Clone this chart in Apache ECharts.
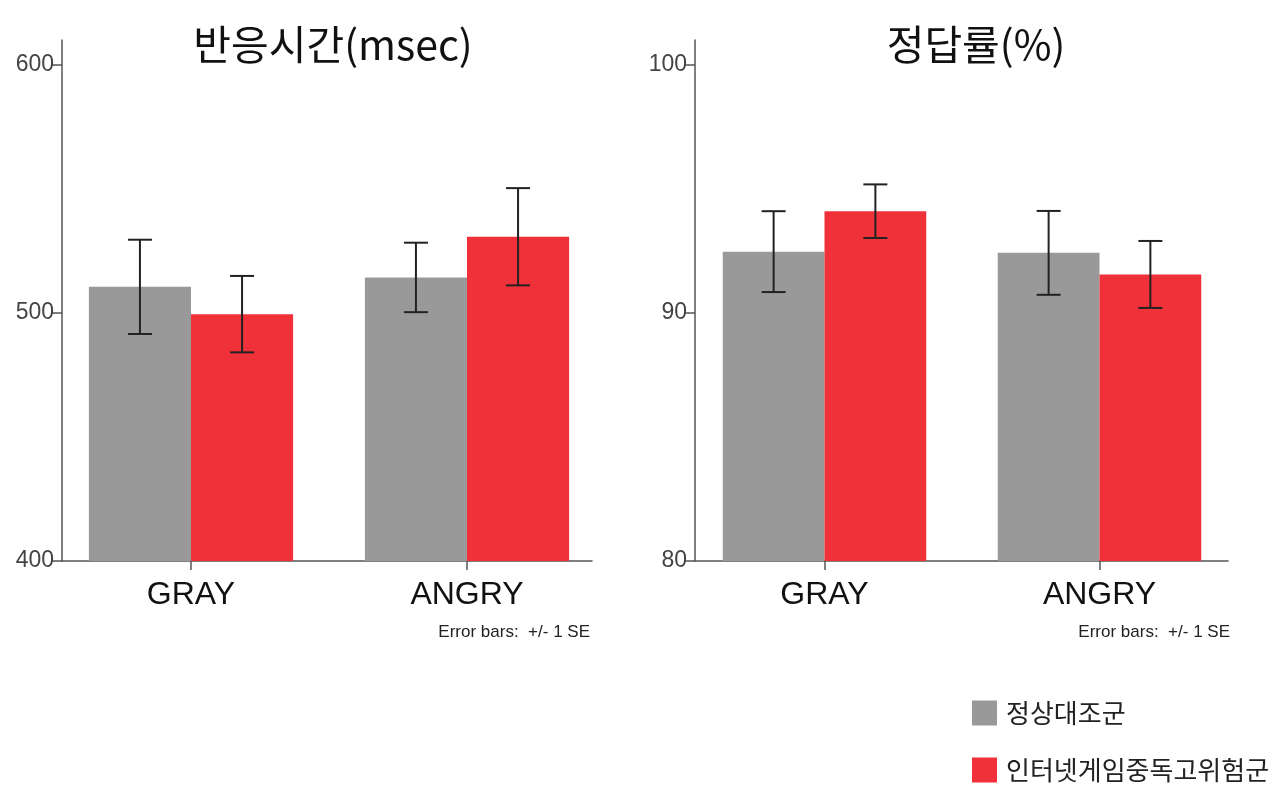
<!DOCTYPE html>
<html>
<head>
<meta charset="utf-8">
<script src="https://cdn.jsdelivr.net/npm/echarts@6/dist/echarts.min.js"></script>
<style>html,body{margin:0;padding:0;background:#fff;}#c{width:1280px;height:797px;}</style>
</head>
<body>
<div id="c"></div>
<script>
const categories = ['GRAY', 'ANGRY'];
const seriesNames = ['정상대조군', '인터넷게임중독고위험군'];
const rtNormal = [510.5, 514.3];
const rtNormalSE = [19.0, 14.0];
const rtRisk = [499.5, 530.7];
const rtRiskSE = [15.4, 19.6];
const accNormal = [92.47, 92.42];
const accNormalSE = [1.63, 1.69];
const accRisk = [94.1, 91.55];
const accRiskSE = [1.08, 1.35];
const rtTicks = [400, 500, 600];
const accTicks = [80, 90, 100];

const GRAY = '#999999';
const RED = '#F0313A';
const AXIS = '#555555';
const GAP = 0.26;
const numFont = "'Liberation Sans', Arial, sans-serif";
const latFont = "'Liberation Sans', Arial, sans-serif";
const cjkFont = "'Noto Sans CJK KR', 'Noto Sans', sans-serif";

function errData(means, ses, side) {
  return means.map((m, i) => [i, m, ses[i], side]);
}
function renderErr(params, api) {
  const idx = api.value(0), m = api.value(1), se = api.value(2), side = api.value(3);
  const bandW = api.size([1, 0])[0];
  const barW = bandW * (1 - GAP) / 2;
  const c = api.coord([idx, m]);
  const x = c[0] + side * barW / 2;
  const yt = api.coord([idx, m + se])[1];
  const yb = api.coord([idx, m - se])[1];
  const hw = 12;
  const st = { stroke: '#222', lineWidth: 2 };
  return { type: 'group', children: [
    { type: 'line', shape: { x1: x, y1: yt, x2: x, y2: yb }, style: st },
    { type: 'line', shape: { x1: x - hw, y1: yt, x2: x + hw, y2: yt }, style: st },
    { type: 'line', shape: { x1: x - hw, y1: yb, x2: x + hw, y2: yb }, style: st }
  ]};
}

const gridTop = 40, gridBottom = 236;
const grids = [
  { left: 53, width: 552, top: gridTop, bottom: gridBottom },   // left data
  { left: 62, width: 530, top: gridTop, bottom: gridBottom },   // left frame
  { left: 687, width: 550, top: gridTop, bottom: gridBottom },  // right data
  { left: 695, width: 533, top: gridTop, bottom: gridBottom }   // right frame
];

function dataX(g) {
  return { type: 'category', gridIndex: g, data: categories,
    axisLine: { show: false },
    axisTick: { show: true, alignWithLabel: true, length: 9, lineStyle: { color: AXIS, width: 1.5 } },
    axisLabel: { color: '#111', fontSize: 32, fontFamily: latFont, margin: 18 },
    splitLine: { show: false } };
}
function frameX(g) {
  return { type: 'category', gridIndex: g, data: categories,
    axisLine: { show: true, lineStyle: { color: AXIS, width: 1.5 } },
    axisTick: { show: false }, axisLabel: { show: false }, splitLine: { show: false } };
}
function dataY(g, min, max) {
  return { type: 'value', gridIndex: g, min: min, max: max, show: false, splitLine: { show: false } };
}
function frameY(g, min, max, interval, ticks) {
  return { type: 'value', gridIndex: g, min: min, max: max, interval: interval,
    axisLine: { show: true, lineStyle: { color: AXIS, width: 1.5 } },
    axisTick: { show: true, length: 10, customValues: ticks, lineStyle: { color: AXIS, width: 1.5 } },
    axisLabel: { color: '#444', fontSize: 23, fontFamily: numFont, margin: 8, customValues: ticks },
    splitLine: { show: false } };
}

const option = {
  animation: false,
  backgroundColor: '#fff',
  title: [
    { text: '반응시간(msec)', left: 328, top: 19, textAlign: 'center',
      textStyle: { fontSize: 41, fontWeight: 'normal', color: '#111', fontFamily: cjkFont } },
    { text: '정답률(%)', left: 971, top: 19, textAlign: 'center',
      textStyle: { fontSize: 41, fontWeight: 'normal', color: '#111', fontFamily: cjkFont } },
    { text: 'Error bars:  +/- 1 SE', right: 685, top: 619,
      textStyle: { fontSize: 17, fontWeight: 'normal', color: '#222', fontFamily: latFont } },
    { text: 'Error bars:  +/- 1 SE', right: 45, top: 619,
      textStyle: { fontSize: 17, fontWeight: 'normal', color: '#222', fontFamily: latFont } }
  ],
  legend: {
    orient: 'vertical', left: 967, top: 695, itemWidth: 25, itemHeight: 25, itemGap: 31,
    icon: 'rect', data: seriesNames,
    textStyle: { fontSize: 26, color: '#222', fontFamily: cjkFont, padding: [0, 0, 0, 4] }
  },
  grid: grids,
  xAxis: [dataX(0), frameX(1), dataX(2), frameX(3)],
  yAxis: [dataY(0, 400, 610), frameY(1, 400, 610, 100, rtTicks),
          dataY(2, 80, 101), frameY(3, 80, 101, 10, accTicks)],
  series: [
    { name: seriesNames[0], type: 'bar', xAxisIndex: 0, yAxisIndex: 0, data: rtNormal,
      itemStyle: { color: GRAY }, barGap: '0%', barCategoryGap: (GAP * 100) + '%' },
    { name: seriesNames[1], type: 'bar', xAxisIndex: 0, yAxisIndex: 0, data: rtRisk,
      itemStyle: { color: RED }, barGap: '0%', barCategoryGap: (GAP * 100) + '%' },
    { type: 'custom', xAxisIndex: 0, yAxisIndex: 0, renderItem: renderErr, z: 10,
      data: errData(rtNormal, rtNormalSE, -1).concat(errData(rtRisk, rtRiskSE, 1)),
      encode: { x: 0, y: 1 } },
    { name: seriesNames[0], type: 'bar', xAxisIndex: 2, yAxisIndex: 2, data: accNormal,
      itemStyle: { color: GRAY }, barGap: '0%', barCategoryGap: (GAP * 100) + '%' },
    { name: seriesNames[1], type: 'bar', xAxisIndex: 2, yAxisIndex: 2, data: accRisk,
      itemStyle: { color: RED }, barGap: '0%', barCategoryGap: (GAP * 100) + '%' },
    { type: 'custom', xAxisIndex: 2, yAxisIndex: 2, renderItem: renderErr, z: 10,
      data: errData(accNormal, accNormalSE, -1).concat(errData(accRisk, accRiskSE, 1)),
      encode: { x: 0, y: 1 } }
  ]
};
const chart = echarts.init(document.getElementById('c'), null, { renderer: 'canvas' });
chart.setOption(option);
</script>
</body>
</html>
